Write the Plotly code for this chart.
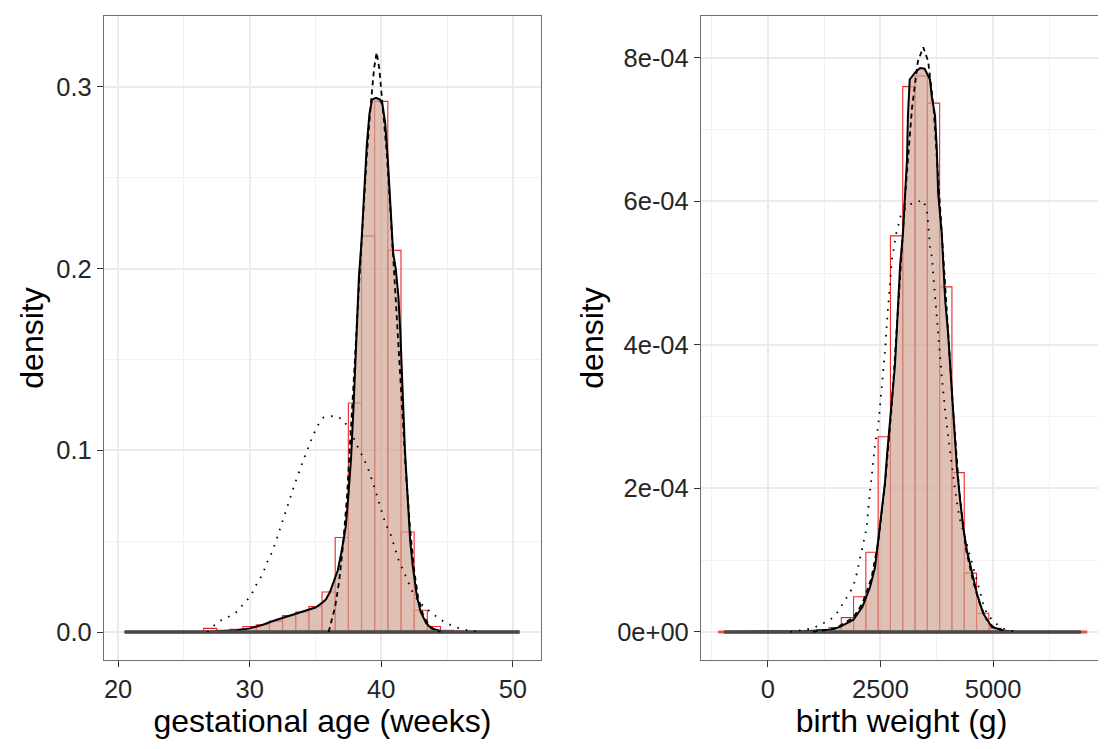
import plotly.graph_objects as go

# ---------------- data: gestational age (weeks) ----------------
ga_bin_centers = [21, 22, 23, 24, 25, 26, 27, 28, 29, 30, 31, 32, 33, 34, 35,
                  36, 37, 38, 39, 40, 41, 42, 43, 44, 45, 46, 47, 48, 49, 50]
ga_bin_density = [0, 0, 0, 0, 0, 0, 0.002, 0.001, 0.0015, 0.003, 0.004, 0.006, 0.009, 0.011, 0.014,
                  0.022, 0.052, 0.126, 0.218, 0.292, 0.210, 0.055, 0.012, 0.003, 0.001, 0, 0, 0, 0, 0]
ga_bin_width = 1.0

ga_solid_x = [20.5, 27.0, 28.0, 29.0, 30.0, 31.0, 32.0, 33.0, 34.0, 35.0, 35.5, 35.8, 36.1, 36.4,
              36.7, 37.0, 37.3, 37.5, 37.7, 37.9, 38.1, 38.3, 38.5, 38.7, 38.9, 39.1, 39.3, 39.6,
              39.9, 40.1, 40.3, 40.5, 40.7, 40.9, 41.1, 41.3, 41.45, 41.6, 41.8, 42.0, 42.2, 42.4,
              42.7, 43.0, 43.4, 43.8, 44.3, 44.8, 50.5]
ga_solid_y = [0, 0, 0.0005, 0.001, 0.002, 0.004, 0.0066, 0.009, 0.0115, 0.0135, 0.016, 0.018, 0.022, 0.028,
              0.034, 0.045, 0.058, 0.075, 0.095, 0.125, 0.165, 0.195, 0.215, 0.245, 0.268, 0.285, 0.293, 0.294,
              0.293, 0.290, 0.280, 0.260, 0.235, 0.209, 0.200, 0.185, 0.165, 0.137, 0.100, 0.075, 0.050, 0.036,
              0.020, 0.011, 0.005, 0.002, 0.001, 0, 0]

ga_dashed_x = [36.0, 36.2, 36.5, 36.8, 37.1, 37.4, 37.7, 38.0, 38.3, 38.6, 38.9, 39.2, 39.45, 39.65,
               39.85, 40.1, 40.4, 40.7, 41.0, 41.3, 41.6, 41.9, 42.2, 42.5, 42.8, 43.2, 43.6, 44.0, 44.5]
ga_dashed_y = [0, 0.006, 0.014, 0.028, 0.048, 0.075, 0.110, 0.150, 0.190, 0.228, 0.262, 0.290, 0.310, 0.319,
               0.310, 0.290, 0.265, 0.232, 0.195, 0.158, 0.120, 0.085, 0.056, 0.034, 0.019, 0.009, 0.004, 0.0015, 0]

ga_dotted_x = [26.8, 27.2, 27.7, 28.3, 29.0, 29.6, 30.1, 30.5, 31.0, 31.3, 31.7, 32.0, 32.5, 33.0, 33.5,
               34.0, 34.4, 34.8, 35.2, 35.6, 36.4, 37.1, 37.7, 38.2, 38.7, 39.1, 39.5, 39.9, 40.3, 40.7,
               41.0, 41.3, 41.6, 42.0, 42.5, 43.1, 43.9, 44.7, 45.5, 46.5, 47.5]
ga_dotted_y = [0, 0.003, 0.006, 0.008, 0.011, 0.016, 0.020, 0.026, 0.032, 0.038, 0.044, 0.050, 0.061, 0.073, 0.083,
               0.093, 0.101, 0.108, 0.114, 0.118, 0.119, 0.117, 0.110, 0.102, 0.095, 0.088, 0.079, 0.070, 0.060, 0.054,
               0.047, 0.040, 0.035, 0.028, 0.020, 0.015, 0.010, 0.006, 0.003, 0.001, 0]

# ---------------- data: birth weight (g) ----------------
bw_bin_centers = [-964, -691, -418, -145, 128, 401, 674, 947, 1220, 1493, 1766, 2039, 2312, 2585, 2858,
                  3131, 3404, 3677, 3950, 4223, 4496, 4769, 5042, 5315, 5588, 5861, 6134, 6407, 6680, 6953]
bw_bin_density = [0, 0, 0, 0, 0, 0, 0.01e-4, 0.02e-4, 0.03e-4, 0.06e-4, 0.20e-4, 0.49e-4, 1.11e-4, 2.72e-4, 5.52e-4,
                  7.60e-4, 7.75e-4, 7.37e-4, 4.81e-4, 2.22e-4, 0.82e-4, 0.26e-4, 0.05e-4, 0.01e-4, 0, 0, 0, 0, 0, 0]
bw_bin_width = 273

bw_solid_x = [-964, 500, 800, 1100, 1400, 1600, 1900, 2100, 2270, 2380, 2450, 2530, 2600, 2650, 2715,
              2760, 2820, 2860, 2890, 2935, 3000, 3050, 3090, 3110, 3150, 3270, 3380, 3480, 3600, 3640,
              3710, 3750, 3780, 3860, 3890, 3936, 4000, 4046, 4100, 4150, 4195, 4268, 4336, 4418, 4528,
              4640, 4780, 4970, 5220, 5500, 6953]
bw_solid_y = [0, 0, 0.01e-4, 0.02e-4, 0.03e-4, 0.07e-4, 0.17e-4, 0.35e-4, 0.63e-4, 0.90e-4, 1.28e-4, 1.70e-4,
              2.08e-4, 2.50e-4, 3.00e-4, 3.30e-4, 3.70e-4, 4.17e-4, 4.63e-4, 5.10e-4, 5.56e-4, 6.06e-4, 6.60e-4,
              7.20e-4, 7.70e-4, 7.80e-4, 7.86e-4, 7.85e-4, 7.70e-4, 7.46e-4, 7.20e-4, 6.75e-4, 6.12e-4, 5.56e-4,
              5.09e-4, 4.63e-4, 4.17e-4, 3.69e-4, 3.20e-4, 2.75e-4, 2.30e-4, 1.84e-4, 1.46e-4, 1.14e-4, 0.82e-4,
              0.54e-4, 0.26e-4, 0.07e-4, 0.02e-4, 0, 0]

bw_dashed_x = [1000, 1500, 1900, 2100, 2300, 2450, 2600, 2750, 2900, 3050, 3200, 3330, 3450, 3560, 3680,
               3800, 3950, 4100, 4250, 4400, 4550, 4700, 4850, 5000, 5300]
bw_dashed_y = [0, 0.05e-4, 0.20e-4, 0.40e-4, 0.75e-4, 1.25e-4, 2.05e-4, 3.15e-4, 4.60e-4, 6.10e-4, 7.30e-4,
               7.95e-4, 8.15e-4, 7.95e-4, 7.30e-4, 6.20e-4, 4.70e-4, 3.20e-4, 1.95e-4, 1.15e-4, 0.72e-4,
               0.40e-4, 0.18e-4, 0.07e-4, 0]

bw_dotted_x = [500, 1000, 1384, 1532, 1673, 1754, 1895, 1976, 2050, 2118, 2196, 2226, 2270, 2309, 2340,
               2382, 2448, 2493, 2531, 2560, 2604, 2642, 2715, 2753, 2850, 2950, 3100, 3268, 3447, 3529,
               3558, 3602, 3640, 3670, 3713, 3751, 3780, 3825, 3862, 3891, 3950, 4050, 4150, 4250, 4400,
               4557, 4639, 4711, 4780, 4860, 5000, 5200, 5500]
bw_dotted_y = [0, 0.05e-4, 0.17e-4, 0.26e-4, 0.40e-4, 0.49e-4, 0.63e-4, 0.82e-4, 1.05e-4, 1.24e-4, 1.46e-4,
               1.70e-4, 1.94e-4, 2.14e-4, 2.40e-4, 2.63e-4, 2.86e-4, 3.14e-4, 3.47e-4, 3.65e-4, 3.93e-4,
               4.30e-4, 4.86e-4, 5.18e-4, 5.55e-4, 5.80e-4, 5.95e-4, 5.98e-4, 6.02e-4, 5.88e-4, 5.64e-4,
               5.37e-4, 5.23e-4, 4.95e-4, 4.67e-4, 4.39e-4, 4.11e-4, 3.83e-4, 3.55e-4, 3.37e-4, 3.00e-4,
               2.50e-4, 2.00e-4, 1.60e-4, 1.25e-4, 0.90e-4, 0.72e-4, 0.54e-4, 0.40e-4, 0.26e-4, 0.15e-4,
               0.05e-4, 0]

# ---------------- styling ----------------
FONT = "Liberation Sans, Arial, Helvetica, sans-serif"
RED = "rgb(235,40,40)"
FILL = "rgba(208,165,148,0.7)"

# the page body has an 8px margin: size the figure so it fits the window exactly
W, H = 1098, 741
OFF = 8

fig = go.Figure()


def add_panel(xa, ya, centers, dens, width, sx, sy, dx, dy, ox, oy):
    fig.add_trace(go.Bar(x=centers, y=dens, width=width, xaxis=xa, yaxis=ya,
                         marker=dict(color="rgba(0,0,0,0)", line=dict(color=RED, width=1.1)),
                         showlegend=False, hoverinfo="skip"))
    fig.add_trace(go.Scatter(x=[centers[0] - width / 2, centers[-1] + width / 2], y=[0, 0],
                             xaxis=xa, yaxis=ya, mode="lines",
                             line=dict(color="rgba(235,60,60,0.8)", width=3), showlegend=False, hoverinfo="skip"))
    fig.add_trace(go.Scatter(x=sx, y=sy, xaxis=xa, yaxis=ya, mode="lines", fill="tozeroy",
                             fillcolor=FILL, line=dict(color="black", width=2),
                             showlegend=False, hoverinfo="skip"))
    fig.add_trace(go.Scatter(x=[sx[0], sx[-1]], y=[0, 0], xaxis=xa, yaxis=ya, mode="lines",
                             line=dict(color="#4a4a4a", width=3.5), showlegend=False, hoverinfo="skip"))
    fig.add_trace(go.Scatter(x=dx, y=dy, xaxis=xa, yaxis=ya, mode="lines",
                             line=dict(color="black", width=1.8, dash="5px,4px"),
                             showlegend=False, hoverinfo="skip"))
    fig.add_trace(go.Scatter(x=ox, y=oy, xaxis=xa, yaxis=ya, mode="lines",
                             line=dict(color="black", width=1.8, dash="1.6px,7px"),
                             showlegend=False, hoverinfo="skip"))


add_panel("x", "y", ga_bin_centers, ga_bin_density, ga_bin_width,
          ga_solid_x, ga_solid_y, ga_dashed_x, ga_dashed_y, ga_dotted_x, ga_dotted_y)
add_panel("x2", "y2", bw_bin_centers, bw_bin_density, bw_bin_width,
          bw_solid_x, bw_solid_y, bw_dashed_x, bw_dashed_y, bw_dotted_x, bw_dotted_y)

axis_common = dict(
    showline=True, mirror=True, linecolor="#6f6f6f", linewidth=1.3,
    ticks="outside", ticklen=6, tickwidth=1.2, tickcolor="#333333",
    showgrid=True, gridcolor="#EBEBEB", gridwidth=1.5,
    zeroline=False,
    tickfont=dict(family=FONT, size=25.5, color="#262626"),
)


def xdom(a, b):
    return [(a - OFF) / W, (b - OFF) / W]


ydom = [1 - (660 - OFF) / H, 1 - (16 - OFF) / H]
minor_style = dict(showgrid=True, gridcolor="#F1F1F1", gridwidth=0.8, ticklen=0)
title_font = dict(family=FONT, size=32, color="black")

fig.update_layout(
    width=W, height=H,
    margin=dict(l=0, r=0, t=0, b=0),
    paper_bgcolor="white", plot_bgcolor="white",
    barmode="overlay",
    font=dict(family=FONT, color="black"),
    xaxis=dict(domain=xdom(104, 541), range=[18.93, 52.14], anchor="y",
               tickvals=[20, 30, 40, 50], ticktext=["20", "30", "40", "50"],
               minor=dict(tickvals=[25, 35, 45], **minor_style),
               title=dict(text="gestational age (weeks)", font=title_font, standoff=5),
               **axis_common),
    yaxis=dict(domain=ydom, range=[-0.0154, 0.3390], anchor="x",
               tickvals=[0, 0.1, 0.2, 0.3], ticktext=["0.0", "0.1", "0.2", "0.3"],
               minor=dict(tickvals=[0.05, 0.15, 0.25], **minor_style),
               title=dict(text="density", font=title_font, standoff=3),
               **axis_common),
    xaxis2=dict(domain=xdom(701, 1102), range=[-1484, 7418], anchor="y2",
                tickvals=[0, 2500, 5000], ticktext=["0", "2500", "5000"],
                minor=dict(tickvals=[-1250, 1250, 3750, 6250], **minor_style),
                title=dict(text="birth weight (g)", font=title_font, standoff=5),
                **axis_common),
    yaxis2=dict(domain=ydom, range=[-0.391e-4, 8.585e-4], anchor="x2",
                tickvals=[0, 2e-4, 4e-4, 6e-4, 8e-4], ticktext=["0e+00", "2e-04", "4e-04", "6e-04", "8e-04"],
                minor=dict(tickvals=[1e-4, 3e-4, 5e-4, 7e-4], **minor_style),
                title=dict(text="density", font=title_font, standoff=3),
                **axis_common),
)

fig.write_html("out.html")
